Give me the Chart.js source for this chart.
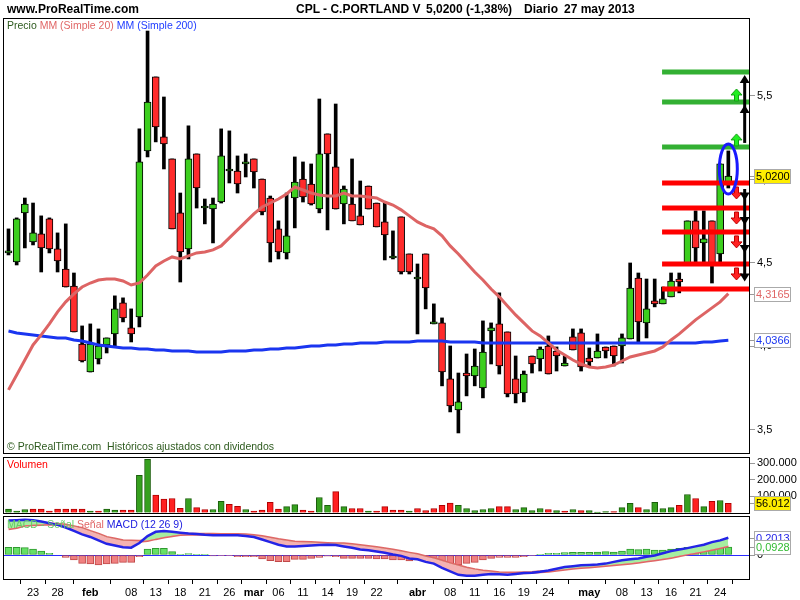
<!DOCTYPE html>
<html>
<head>
<meta charset="utf-8">
<script src="https://cdn.jsdelivr.net/npm/chart.js@4.4.0/dist/chart.umd.min.js"></script>
<style>
  body { margin: 0; background: #fff; }
  #wrap { position: relative; width: 800px; height: 600px; overflow: hidden; background: #fff;
          font-family: "Liberation Sans", Arial, sans-serif; }
  canvas { position: absolute; left: 0; }
  .txt { position: absolute; white-space: pre; line-height: 1; }
  .hdr { font-weight: bold; font-size: 12px; top: 3px; color: #000; }
  .lg { font-size: 10.5px; }
</style>
</head>
<body>
<div id="wrap">
  <canvas id="price" width="800" height="455" style="top:0"></canvas>
  <canvas id="vol" width="800" height="60" style="top:455px"></canvas>
  <canvas id="macd" width="800" height="85" style="top:515px"></canvas>

  <div class="txt hdr" style="left:7px">www.ProRealTime.com</div>
  <div class="txt hdr" style="left:296px">CPL - C.PORTLAND V</div>
  <div class="txt hdr" style="left:426px">5,0200 (-1,38%)</div>
  <div class="txt hdr" style="left:524px">Diario</div>
  <div class="txt hdr" style="left:564px">27 may 2013</div>

  <div class="txt lg" style="left:7px;top:20px"><span style="color:#2d5a1e">Precio</span> <span style="color:#e06666">MM (Simple 20)</span> <span style="color:#1f3cff">MM (Simple 200)</span></div>
  <div class="txt lg" style="left:7px;top:441px;color:#2d5a1e">© ProRealTime.com  Históricos ajustados con dividendos</div>
  <div class="txt lg" style="left:7px;top:459px;color:#ff0000">Volumen</div>
  <div class="txt lg" style="left:7px;top:519px"><span style="color:#66cc66">MACD - Señal</span> <span style="color:#e06666">Señal</span> <span style="color:#2020e0">MACD (12 26 9)</span></div>
</div>

<script>
// trading days shown, 18 jan -> 27 may 2013
const dates = [
  '18/01','21/01','22/01','23/01','24/01','25/01','28/01','29/01','30/01','31/01',
  '01/02','04/02','05/02','06/02','07/02','08/02','11/02','12/02','13/02','14/02',
  '15/02','18/02','19/02','20/02','21/02','22/02','25/02','26/02','27/02','28/02',
  '01/03','04/03','05/03','06/03','07/03','08/03','11/03','12/03','13/03','14/03',
  '15/03','18/03','19/03','20/03','21/03','22/03','25/03','26/03','27/03','28/03',
  '02/04','03/04','04/04','05/04','08/04','09/04','10/04','11/04','12/04','15/04',
  '16/04','17/04','18/04','19/04','22/04','23/04','24/04','25/04','26/04','29/04',
  '30/04','02/05','03/05','06/05','07/05','08/05','09/05','10/05','13/05','14/05',
  '15/05','16/05','17/05','20/05','21/05','22/05','23/05','24/05','27/05'
];

const opens = [
  4.560,4.506,4.800,4.626,4.674,4.764,4.584,4.464,4.362,4.015,
  3.847,3.925,4.009,4.075,4.261,4.111,4.177,5.171,5.614,5.255,
  5.123,4.800,4.584,5.153,4.829,4.823,4.865,5.051,5.051,5.093,
  5.123,5.003,4.889,4.704,4.560,4.889,5.003,4.973,4.823,5.273,
  5.075,4.853,4.853,4.782,4.961,4.859,4.746,4.530,4.776,4.554,
  4.404,4.554,4.135,4.141,3.806,3.620,3.841,3.824,3.752,4.093,
  4.135,4.087,3.806,3.722,3.943,3.925,4.003,3.973,3.883,4.057,
  4.081,3.931,3.931,3.997,4.003,4.003,4.045,4.410,4.141,4.273,
  4.255,4.297,4.404,4.500,4.752,4.620,4.752,4.554,4.985
];
const highs = [
  4.704,4.770,4.889,4.859,4.782,4.770,4.680,4.734,4.440,4.123,
  4.135,4.105,4.051,4.303,4.291,4.225,5.303,5.889,5.614,5.494,
  5.123,4.919,5.321,5.153,4.883,4.889,5.303,5.291,5.141,5.153,
  5.123,5.003,4.901,4.752,4.919,5.135,5.105,5.093,5.482,5.273,
  5.452,4.961,5.123,4.991,4.961,4.859,4.859,4.692,4.776,4.554,
  4.494,4.554,4.255,4.171,4.003,3.841,3.955,3.985,4.153,4.141,
  4.321,4.087,3.943,3.853,3.943,3.997,4.063,3.997,3.943,4.105,
  4.105,3.991,4.075,3.997,4.003,4.075,4.500,4.440,4.404,4.404,
  4.356,4.440,4.440,4.752,4.812,4.812,4.752,5.093,5.171
];
const lows = [
  4.548,4.488,4.590,4.608,4.446,4.560,4.446,4.356,4.087,3.907,
  3.847,3.895,3.961,3.997,4.147,4.027,4.117,5.135,5.225,5.063,
  4.704,4.386,4.524,4.829,4.734,4.620,4.859,4.979,4.919,5.015,
  4.949,4.788,4.506,4.524,4.524,4.710,4.865,4.847,4.800,4.698,
  4.823,4.734,4.752,4.728,4.823,4.716,4.518,4.524,4.434,4.434,
  4.075,4.225,4.135,3.764,3.608,3.482,3.704,3.764,3.692,3.895,
  3.835,3.698,3.662,3.668,3.841,3.853,3.835,3.853,3.883,3.979,
  3.853,3.883,3.931,3.931,3.883,3.901,4.045,4.027,4.051,4.237,
  4.255,4.297,4.321,4.500,4.506,4.500,4.380,4.506,4.949
];
const closes = [
  4.560,4.764,4.853,4.680,4.590,4.584,4.512,4.356,4.087,3.913,
  4.015,4.003,4.051,4.225,4.171,4.075,5.105,5.464,5.315,5.213,
  4.704,4.566,5.123,4.949,4.835,4.853,5.141,5.051,4.973,5.105,
  5.045,4.806,4.620,4.566,4.662,4.985,4.895,4.853,5.153,5.153,
  4.823,4.943,4.752,4.728,4.823,4.716,4.668,4.530,4.446,4.446,
  4.416,4.350,4.135,3.847,3.644,3.668,3.824,3.883,3.967,4.111,
  3.883,3.716,3.716,3.835,3.895,3.985,3.835,3.943,3.901,3.979,
  3.877,3.907,3.973,3.973,3.943,4.051,4.350,4.147,4.225,4.255,
  4.285,4.392,4.386,4.752,4.590,4.644,4.500,5.093,5.020
];
const volumes = [
  20000,8000,18000,20000,20000,8000,20000,20000,20000,20000,
  8000,8000,20000,14000,14000,14000,226000,323000,105000,81000,
  85000,26000,85000,30000,18000,18000,67000,50000,38000,18000,
  8000,14000,61000,20000,36000,48000,14000,8000,91000,44000,
  127000,36000,24000,24000,8000,8000,36000,14000,14000,8000,
  24000,12000,24000,44000,57000,44000,24000,12000,18000,24000,
  36000,36000,18000,30000,12000,24000,18000,12000,8000,18000,
  12000,12000,2000,6000,6000,30000,55000,30000,18000,61000,
  24000,30000,44000,109000,85000,36000,67000,73000,56012
];
const mm20 = [
  3.740,3.829,3.919,4.009,4.069,4.135,4.207,4.267,4.315,4.356,
  4.380,4.398,4.404,4.404,4.392,4.368,4.380,4.428,4.482,4.512,
  4.536,4.524,4.542,4.560,4.566,4.578,4.602,4.650,4.698,4.746,
  4.794,4.835,4.859,4.883,4.913,4.955,4.937,4.919,4.907,4.901,
  4.901,4.919,4.901,4.901,4.895,4.889,4.865,4.847,4.818,4.782,
  4.746,4.722,4.704,4.662,4.602,4.554,4.500,4.446,4.398,4.344,
  4.297,4.243,4.189,4.141,4.093,4.063,4.021,3.979,3.949,3.919,
  3.895,3.877,3.871,3.877,3.889,3.913,3.937,3.949,3.961,3.973,
  3.997,4.039,4.075,4.117,4.159,4.195,4.231,4.267,4.3165
];
const mm200 = [
  4.093,4.081,4.075,4.069,4.063,4.057,4.051,4.051,4.039,4.033,
  4.021,4.009,4.003,3.997,3.991,3.991,3.985,3.985,3.979,3.979,
  3.973,3.973,3.973,3.967,3.967,3.967,3.967,3.973,3.973,3.973,
  3.979,3.979,3.985,3.985,3.991,3.991,3.997,4.003,4.003,4.009,
  4.009,4.015,4.015,4.021,4.021,4.021,4.027,4.027,4.027,4.027,
  4.033,4.033,4.033,4.033,4.027,4.027,4.027,4.027,4.021,4.021,
  4.021,4.021,4.021,4.021,4.021,4.021,4.021,4.021,4.021,4.021,
  4.021,4.021,4.021,4.021,4.021,4.021,4.021,4.021,4.021,4.021,
  4.021,4.021,4.021,4.021,4.021,4.027,4.027,4.033,4.0366
];
const macdLine = [
  .40,.405,.41,.405,.39,.37,.35,.32,.28,.24,
  .21,.17,.13,.11,.09,.085,.14,.22,.27,.28,
  .27,.26,.25,.245,.235,.23,.23,.23,.23,.22,
  .21,.18,.15,.12,.10,.10,.105,.11,.115,.12,
  .115,.10,.085,.065,.055,.04,.025,.005,-.01,-.04,
  -.05,-.08,-.10,-.15,-.19,-.23,-.24,-.24,-.23,-.22,
  -.225,-.23,-.22,-.21,-.205,-.195,-.18,-.16,-.14,-.13,
  -.12,-.115,-.11,-.10,-.08,-.06,-.05,-.04,-.02,-.005,
  .02,.045,.065,.08,.10,.12,.15,.17,.2013
];
const signalLine = [
  .305,.32,.345,.352,.356,.36,.357,.348,.33,.31,
  .275,.243,.205,.185,.165,.162,.16,.168,.19,.208,
  .225,.238,.24,.242,.242,.24,.238,.238,.238,.235,
  .228,.215,.198,.18,.165,.15,.148,.145,.14,.135,
  .132,.13,.122,.11,.098,.087,.072,.058,.04,.022,
  .005,-.02,-.04,-.07,-.10,-.125,-.15,-.17,-.185,-.195,
  -.205,-.21,-.21,-.207,-.203,-.195,-.188,-.178,-.165,-.155,
  -.145,-.14,-.132,-.122,-.113,-.105,-.095,-.085,-.07,-.058,
  -.045,-.03,-.01,.01,.025,.045,.065,.085,.1085
];
const macdHist = [
  .089,.089,.085,.07,.047,.019,0,-.027,-.058,-.097,
  -.105,-.116,-.105,-.097,-.085,-.085,-.019,.07,.078,.078,
  .039,.008,.016,.008,.002,-.012,-.008,-.008,-.019,-.019,
  -.019,-.047,-.066,-.078,-.078,-.05,-.05,-.039,-.027,-.015,
  -.019,-.039,-.039,-.039,-.039,-.047,-.047,-.058,-.058,-.07,
  -.058,-.07,-.07,-.097,-.116,-.116,-.097,-.085,-.058,-.039,
  -.027,-.027,-.027,-.019,-.005,.008,.019,.019,.027,.031,
  .031,.031,.035,.039,.035,.047,.07,.062,.07,.058,
  .058,.07,.078,.089,.078,.085,.097,.105,.0928
];

// drawn support / resistance levels and where they start
const resistLevels = [5.644, 5.464, 5.195];
const supportLevels = [4.979, 4.829, 4.686, 4.494, 4.344];
const levelFrom = '15/05';

const priceTicks = [3.5, 4, 4.5, 5, 5.5];
const volumeTicks = [100000, 200000, 300000];
const xTickDates = ['23/01','28/01','01/02','08/02','13/02','18/02','21/02','26/02','01/03','06/03','11/03','14/03','19/03','22/03',
                    '02/04','08/04','11/04','16/04','19/04','24/04','02/05','08/05','13/05','16/05','21/05','24/05'];
const xTickLabels = ['23','28','feb','08','13','18','21','26','mar','06','11','14','19','22',
                     'abr','08','11','16','19','24','may','08','13','16','21','24'];
const monthLabels = ['feb','mar','abr','may'];

const X_MIN = -0.672, X_MAX = 90.65;
const GREEN = '#3ccf1e', RED = '#ff2b2b';

Chart.defaults.font.family = '"Liberation Sans", Arial, sans-serif';
Chart.defaults.font.size = 11;
Chart.defaults.color = '#000';

const comma = (v, d) => v.toFixed(d).replace('.', ',');
const thousands = v => String(Math.round(v)).replace(/\B(?=(\d{3})+(?!\d))/g, '.');
const last = closes.length - 1;
const xy = arr => arr.map((v, i) => ({x: i, y: v}));

const panelBorder = {
  id: 'panelBorder',
  afterDraw(chart) {
    const {ctx, chartArea: a} = chart;
    ctx.save();
    ctx.strokeStyle = '#000';
    ctx.lineWidth = 1;
    ctx.strokeRect(a.left + 0.5, a.top + 0.5, a.right - a.left - 1, a.bottom - a.top - 1);
    ctx.restore();
  }
};

function valueBoxes(list) {
  return {
    id: 'valueBoxes',
    afterDraw(chart) {
      const {ctx} = chart;
      const y = chart.scales.y;
      const x0 = chart.chartArea.right;
      ctx.save();
      ctx.font = '11px "Liberation Sans", Arial';
      ctx.textBaseline = 'middle';
      ctx.lineWidth = 1;
      list.forEach(b => {
        const py = Math.round(y.getPixelForValue(b.value));
        ctx.strokeStyle = '#999';
        ctx.beginPath(); ctx.moveTo(x0, py + 0.5); ctx.lineTo(x0 + 4, py + 0.5); ctx.stroke();
        ctx.fillStyle = b.bg;
        ctx.fillRect(x0 + 4, py - 7, 37, 15);
        ctx.strokeStyle = '#aaa';
        ctx.strokeRect(x0 + 4.5, py - 6.5, 36, 14);
        ctx.fillStyle = b.color;
        ctx.fillText(b.text, x0 + 6, py + 1);
      });
      ctx.restore();
    }
  };
}

function blockArrow(ctx, x, base, dir, fill, stroke) {
  const len = 12, head = 6, hw = 5.5, sw = 2;
  const tip = base + dir * len, neck = tip - dir * head;
  ctx.beginPath();
  ctx.moveTo(x - sw, base); ctx.lineTo(x - sw, neck); ctx.lineTo(x - hw, neck);
  ctx.lineTo(x, tip); ctx.lineTo(x + hw, neck); ctx.lineTo(x + sw, neck); ctx.lineTo(x + sw, base);
  ctx.closePath();
  ctx.fillStyle = fill; ctx.fill();
  ctx.strokeStyle = stroke; ctx.lineWidth = 1; ctx.stroke();
}
function arrowHead(ctx, x, tip, dir) {
  ctx.beginPath();
  ctx.moveTo(x, tip); ctx.lineTo(x - 5, tip - dir * 8); ctx.lineTo(x + 5, tip - dir * 8);
  ctx.closePath(); ctx.fill();
}

const annotations = {
  id: 'annotations',
  afterDatasetsDraw(chart) {
    const {ctx, scales: {x, y}} = chart;
    const xc = x.getPixelForValue(last + 1);
    const xb = x.getPixelForValue(last + 2);
    ctx.save();
    resistLevels.slice(1).forEach(v => blockArrow(ctx, xc, y.getPixelForValue(v) - 1, -1, '#22ee22', '#15a015'));
    supportLevels.slice(0, -1).forEach(v => blockArrow(ctx, xc, y.getPixelForValue(v) + 4, 1, '#ff2222', '#c00000'));

    ctx.fillStyle = '#000';
    ctx.strokeStyle = '#000';
    ctx.lineWidth = 3;
    const upTips = resistLevels.slice(0, 2).map(v => y.getPixelForValue(v) + 3);
    ctx.beginPath(); ctx.moveTo(xb, y.getPixelForValue(resistLevels[2]) - 4); ctx.lineTo(xb, upTips[0] + 4); ctx.stroke();
    upTips.forEach(t => arrowHead(ctx, xb, t, -1));
    const downTips = supportLevels.slice(0, -1).map((v, k) => (y.getPixelForValue(v) + y.getPixelForValue(supportLevels[k + 1])) / 2 + 5);
    ctx.beginPath(); ctx.moveTo(xb, y.getPixelForValue(supportLevels[0]) + 6); ctx.lineTo(xb, downTips[downTips.length - 1] - 4); ctx.stroke();
    downTips.forEach(t => arrowHead(ctx, xb, t, 1));

    const cx = x.getPixelForValue(last);
    const top = y.getPixelForValue(highs[last]) - 7;
    const bot = y.getPixelForValue(lows[last]) + 6;
    ctx.strokeStyle = '#1a1aff';
    ctx.lineWidth = 3;
    ctx.beginPath();
    ctx.ellipse(cx, (top + bot) / 2, 9, (bot - top) / 2, 0, 0, Math.PI * 2);
    ctx.stroke();
    ctx.restore();
  }
};

const noPad = s => { s.paddingTop = 0; s.paddingBottom = 0; s.paddingLeft = 0; s.paddingRight = 0; };
const hiddenX = { type: 'linear', min: X_MIN, max: X_MAX, offset: false, display: false };
function rightAxis(extra) {
  return Object.assign({
    position: 'right',
    border: { display: false },
    grid: { drawOnChartArea: false, drawTicks: true, tickLength: 5, color: '#999' },
    afterFit: s => { s.width = 50; noPad(s); }
  }, extra);
}
const baseOptions = {
  responsive: false,
  animation: false,
  events: [],
  devicePixelRatio: 1,
  plugins: { legend: { display: false }, tooltip: { enabled: false } }
};

// price panel
const levelSets = [];
const levelStart = dates.indexOf(levelFrom) - 0.1;
resistLevels.forEach(v => levelSets.push({ type: 'line', data: [{x: levelStart, y: v}, {x: X_MAX + 1, y: v}],
  borderColor: '#33b033', borderWidth: 5, pointRadius: 0, borderCapStyle: 'butt', order: 1 }));
supportLevels.forEach(v => levelSets.push({ type: 'line', data: [{x: levelStart, y: v}, {x: X_MAX + 1, y: v}],
  borderColor: '#ff0000', borderWidth: 5, pointRadius: 0, borderCapStyle: 'butt', order: 1 }));

new Chart(document.getElementById('price'), {
  type: 'bar',
  data: {
    datasets: [
      { data: dates.map((d, i) => ({x: i, y: [lows[i], highs[i]]})), backgroundColor: '#000',
        barThickness: 3, grouped: false, order: 10 },
      { data: dates.map((d, i) => ({x: i, y: [opens[i], closes[i]]})),
        backgroundColor: dates.map((d, i) => closes[i] >= opens[i] ? GREEN : RED),
        borderColor: '#000', borderWidth: 1, borderSkipped: false, minBarLength: 2,
        barThickness: 7, grouped: false, order: 9 },
      { type: 'line', data: xy(mm200), borderColor: '#1a35f0', borderWidth: 3, pointRadius: 0, order: 3 },
      { type: 'line', data: xy(mm20), borderColor: '#dd6464', borderWidth: 3, pointRadius: 0, order: 2 },
      ...levelSets
    ]
  },
  options: Object.assign({}, baseOptions, {
    layout: { padding: { left: 3, top: 18, right: 0, bottom: 1 } },
    scales: {
      x: hiddenX,
      y: rightAxis({
        min: 3.356, max: 5.967,
        afterBuildTicks: s => { s.ticks = priceTicks.map(v => ({value: v})); },
        ticks: { padding: 2, color: '#000', callback: v => comma(v, 1) }
      })
    }
  }),
  plugins: [annotations, panelBorder, valueBoxes([
    { value: closes[last], text: comma(closes[last], 4), bg: '#ffee00', color: '#000' },
    { value: mm20[last], text: comma(mm20[last], 4), bg: '#fff', color: '#e06666' },
    { value: mm200[last], text: comma(mm200[last], 4), bg: '#fff', color: '#1a35f0' }
  ])]
});

// volume panel
new Chart(document.getElementById('vol'), {
  type: 'bar',
  data: {
    datasets: [{
      data: xy(volumes),
      backgroundColor: volumes.map((v, i) => i === 0 || closes[i] >= closes[i - 1] ? '#36a01e' : '#ff2020'),
      borderColor: volumes.map((v, i) => i === 0 || closes[i] >= closes[i - 1] ? '#1b5e0c' : '#b00000'),
      borderWidth: 1, borderSkipped: 'start', barThickness: 6, grouped: false
    }]
  },
  options: Object.assign({}, baseOptions, {
    layout: { padding: { left: 3, top: 2, right: 0, bottom: 1 } },
    scales: {
      x: hiddenX,
      y: rightAxis({
        min: -9100, max: 336400,
        afterBuildTicks: s => { s.ticks = volumeTicks.map(v => ({value: v})); },
        ticks: { padding: 2, color: '#000', callback: v => thousands(v) }
      })
    }
  }),
  plugins: [panelBorder, valueBoxes([
    { value: volumes[last], text: thousands(volumes[last]), bg: '#ffee00', color: '#000' }
  ])]
});

// MACD panel
const zeroLine = {
  id: 'zeroLine',
  beforeDatasetsDraw(chart) {
    const {ctx, chartArea: a, scales: {y}} = chart;
    const py = Math.round(y.getPixelForValue(0)) + 0.5;
    ctx.save();
    ctx.strokeStyle = '#2a2aff'; ctx.lineWidth = 1;
    ctx.beginPath(); ctx.moveTo(a.left, py); ctx.lineTo(a.right, py); ctx.stroke();
    ctx.restore();
  }
};

new Chart(document.getElementById('macd'), {
  type: 'bar',
  data: {
    datasets: [
      { data: xy(macdHist),
        backgroundColor: macdHist.map(v => v >= 0 ? '#66e066' : '#f08080'),
        borderColor: macdHist.map(v => v >= 0 ? '#2f9a2f' : '#c04848'),
        borderWidth: 1, borderSkipped: false, barThickness: 7, grouped: false, order: 10 },
      { type: 'line', data: xy(signalLine), borderColor: '#e06666', borderWidth: 3, pointRadius: 0, order: 2 },
      { type: 'line', data: xy(macdLine), borderColor: '#2424e6', borderWidth: 2.5, pointRadius: 0, order: 1,
        fill: { target: 1, above: '#a6eea0', below: '#f4b2b2' } }
    ]
  },
  options: Object.assign({}, baseOptions, {
    layout: { padding: { left: 3, top: 1, right: 0, bottom: 0 } },
    scales: {
      x: {
        type: 'linear', min: X_MIN, max: X_MAX, offset: false,
        border: { display: false },
        grid: { drawOnChartArea: false, drawTicks: true, tickLength: 4, color: '#000' },
        afterBuildTicks: s => { s.ticks = xTickDates.map(d => ({value: dates.indexOf(d)})); },
        afterFit: s => { s.height = 20; noPad(s); },
        ticks: {
          autoSkip: false, maxRotation: 0, padding: 2, color: '#000',
          callback: (v, i) => xTickLabels[i],
          font: c => ({ size: 11, weight: monthLabels.includes(xTickLabels[c.index]) ? 'bold' : 'normal' })
        }
      },
      y: rightAxis({
        min: -0.2907, max: 0.4535,
        afterBuildTicks: s => { s.ticks = [{value: 0}]; },
        ticks: { padding: 2, color: '#000', callback: v => comma(v, 0) }
      })
    }
  }),
  plugins: [zeroLine, panelBorder, valueBoxes([
    { value: macdLine[last], text: comma(macdLine[last], 4), bg: '#fff', color: '#2424e6' },
    { value: macdHist[last], text: comma(macdHist[last], 4), bg: '#fff', color: '#33bb33' }
  ])]
});
</script>
</body>
</html>
